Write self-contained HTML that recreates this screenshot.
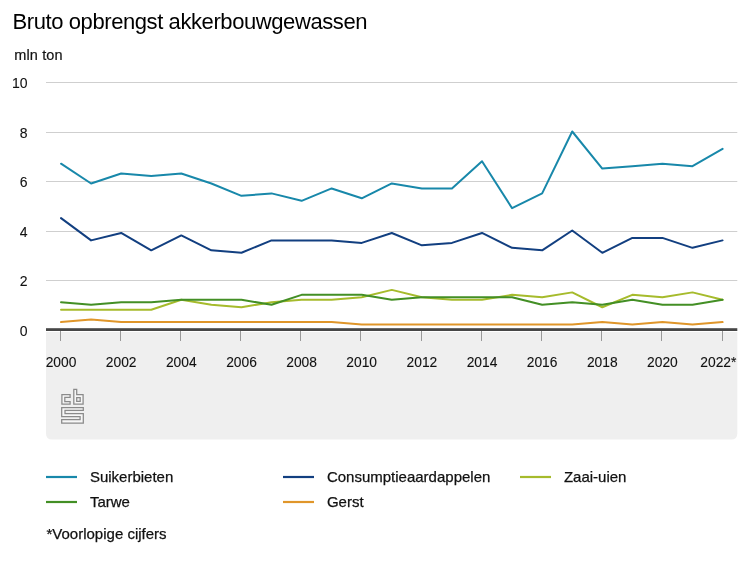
<!DOCTYPE html>
<html><head><meta charset="utf-8"><style>
html,body{margin:0;padding:0;background:#fff;}
body{width:750px;height:562px;overflow:hidden;position:relative;font-family:"Liberation Sans",Arial,sans-serif;color:#111;}
svg{position:absolute;left:0;top:0;will-change:transform;}
.t{font-size:22px;letter-spacing:-0.41px;fill:#000;}
.u{font-size:14.5px;letter-spacing:0.15px;fill:#111;stroke:#111;stroke-width:0.2px;}
.yl{font-size:14px;fill:#111;stroke:#111;stroke-width:0.1px;}
.xl{font-size:13.8px;fill:#111;stroke:#111;stroke-width:0.1px;}
.lg{font-size:15px;fill:#111;stroke:#111;stroke-width:0.25px;}
.fn{font-size:15px;fill:#111;stroke:#111;stroke-width:0.25px;}
</style></head><body>
<svg width="750" height="562" viewBox="0 0 750 562" >
<text x="12.5" y="28.6" class="t">Bruto opbrengst akkerbouwgewassen</text>
<text x="14.2" y="60" class="u">mln ton</text>
<line x1="46.0" x2="737.3" y1="82.5" y2="82.5" stroke="#cfcfcf" stroke-width="1"/><line x1="46.0" x2="737.3" y1="132.5" y2="132.5" stroke="#cfcfcf" stroke-width="1"/><line x1="46.0" x2="737.3" y1="181.5" y2="181.5" stroke="#cfcfcf" stroke-width="1"/><line x1="46.0" x2="737.3" y1="231.5" y2="231.5" stroke="#cfcfcf" stroke-width="1"/><line x1="46.0" x2="737.3" y1="280.5" y2="280.5" stroke="#cfcfcf" stroke-width="1"/><path d="M46.0 332 H737.3 V433.5 Q737.3 439.5 731.3 439.5 H52.0 Q46.0 439.5 46.0 433.5 Z" fill="#efefef"/><line x1="60.5" x2="60.5" y1="331" y2="341" stroke="#999999" stroke-width="1"/><line x1="120.5" x2="120.5" y1="331" y2="341" stroke="#999999" stroke-width="1"/><line x1="180.5" x2="180.5" y1="331" y2="341" stroke="#999999" stroke-width="1"/><line x1="240.5" x2="240.5" y1="331" y2="341" stroke="#999999" stroke-width="1"/><line x1="300.5" x2="300.5" y1="331" y2="341" stroke="#999999" stroke-width="1"/><line x1="360.5" x2="360.5" y1="331" y2="341" stroke="#999999" stroke-width="1"/><line x1="421.5" x2="421.5" y1="331" y2="341" stroke="#999999" stroke-width="1"/><line x1="481.5" x2="481.5" y1="331" y2="341" stroke="#999999" stroke-width="1"/><line x1="541.5" x2="541.5" y1="331" y2="341" stroke="#999999" stroke-width="1"/><line x1="601.5" x2="601.5" y1="331" y2="341" stroke="#999999" stroke-width="1"/><line x1="661.5" x2="661.5" y1="331" y2="341" stroke="#999999" stroke-width="1"/><line x1="722.5" x2="722.5" y1="331" y2="341" stroke="#999999" stroke-width="1"/><path d="M61.03 163.68 L91.10 183.47 L121.17 173.57 L151.24 176.05 L181.31 173.57 L211.38 183.47 L241.45 195.85 L271.52 193.38 L301.59 200.80 L331.66 188.43 L361.73 198.32 L391.80 183.47 L421.87 188.43 L451.94 188.43 L482.01 161.20 L512.08 208.22 L542.15 193.38 L572.22 131.50 L602.29 168.62 L632.36 166.15 L662.43 163.68 L692.50 166.15 L722.57 148.82" fill="none" stroke="#1888aa" stroke-width="2" stroke-linejoin="round" stroke-linecap="round"/><path d="M61.03 218.12 L91.10 240.40 L121.17 232.97 L151.24 250.30 L181.31 235.45 L211.38 250.30 L241.45 252.78 L271.52 240.40 L301.59 240.40 L331.66 240.40 L361.73 242.88 L391.80 232.97 L421.87 245.35 L451.94 242.88 L482.01 232.97 L512.08 247.83 L542.15 250.30 L572.22 230.50 L602.29 252.78 L632.36 237.92 L662.43 237.92 L692.50 247.83 L722.57 240.40" fill="none" stroke="#123f80" stroke-width="2" stroke-linejoin="round" stroke-linecap="round"/><path d="M61.03 309.70 L91.10 309.70 L121.17 309.70 L151.24 309.70 L181.31 299.80 L211.38 304.75 L241.45 307.23 L271.52 302.27 L301.59 299.80 L331.66 299.80 L361.73 297.32 L391.80 289.90 L421.87 297.32 L451.94 299.80 L482.01 299.80 L512.08 294.85 L542.15 297.32 L572.22 292.38 L602.29 307.23 L632.36 294.85 L662.43 297.32 L692.50 292.38 L722.57 299.80" fill="none" stroke="#a6bb2c" stroke-width="2" stroke-linejoin="round" stroke-linecap="round"/><path d="M61.03 302.27 L91.10 304.75 L121.17 302.27 L151.24 302.27 L181.31 299.80 L211.38 299.80 L241.45 299.80 L271.52 304.75 L301.59 294.85 L331.66 294.85 L361.73 294.85 L391.80 299.80 L421.87 297.32 L451.94 297.32 L482.01 297.32 L512.08 297.32 L542.15 304.75 L572.22 302.27 L602.29 304.75 L632.36 299.80 L662.43 304.75 L692.50 304.75 L722.57 299.80" fill="none" stroke="#438f25" stroke-width="2" stroke-linejoin="round" stroke-linecap="round"/><path d="M61.03 322.07 L91.10 319.60 L121.17 322.07 L151.24 322.07 L181.31 322.07 L211.38 322.07 L241.45 322.07 L271.52 322.07 L301.59 322.07 L331.66 322.07 L361.73 324.55 L391.80 324.55 L421.87 324.55 L451.94 324.55 L482.01 324.55 L512.08 324.55 L542.15 324.55 L572.22 324.55 L602.29 322.07 L632.36 324.55 L662.43 322.07 L692.50 324.55 L722.57 322.07" fill="none" stroke="#e0962a" stroke-width="2" stroke-linejoin="round" stroke-linecap="round"/><rect x="46.0" y="328" width="691.3" height="1" fill="#6a6a6a"/><rect x="46.0" y="329" width="691.3" height="2" fill="#464646"/>
<text x="27.5" y="88.2" text-anchor="end" class="yl">10</text><text x="27.5" y="137.7" text-anchor="end" class="yl">8</text><text x="27.5" y="187.2" text-anchor="end" class="yl">6</text><text x="27.5" y="236.7" text-anchor="end" class="yl">4</text><text x="27.5" y="286.2" text-anchor="end" class="yl">2</text><text x="27.5" y="335.7" text-anchor="end" class="yl">0</text>
<text x="61.0" y="367" text-anchor="middle" class="xl">2000</text><text x="121.2" y="367" text-anchor="middle" class="xl">2002</text><text x="181.3" y="367" text-anchor="middle" class="xl">2004</text><text x="241.5" y="367" text-anchor="middle" class="xl">2006</text><text x="301.6" y="367" text-anchor="middle" class="xl">2008</text><text x="361.7" y="367" text-anchor="middle" class="xl">2010</text><text x="421.9" y="367" text-anchor="middle" class="xl">2012</text><text x="482.0" y="367" text-anchor="middle" class="xl">2014</text><text x="542.1" y="367" text-anchor="middle" class="xl">2016</text><text x="602.3" y="367" text-anchor="middle" class="xl">2018</text><text x="662.4" y="367" text-anchor="middle" class="xl">2020</text><text x="736.4" y="367" text-anchor="end" class="xl">2022*</text>
<g fill="#f7f7f7" stroke="#8a8a8a" stroke-width="1.25" stroke-linejoin="miter">
<path d="M70.1 394.6 H61.9 V404.2 H70.1 V401.5 H64.8 V397.4 H70.1 Z"/>
<path d="M73.8 389.3 H76.7 V394.6 H83.1 V404.2 H73.8 Z M76.7 397.5 V401.4 H80.2 V397.5 Z" fill-rule="evenodd"/>
<path d="M61.7 407.5 H83.3 V410.4 H65 V413.6 H83.3 V423 H61.7 V419.6 H80.1 V416.7 H61.7 Z"/>
</g>
<line x1="46" x2="77" y1="477" y2="477" stroke="#1888aa" stroke-width="2.2"/><text x="89.9" y="481.6" class="lg">Suikerbieten</text><line x1="283" x2="314" y1="477" y2="477" stroke="#123f80" stroke-width="2.2"/><text x="326.9" y="481.6" class="lg">Consumptieaardappelen</text><line x1="520" x2="551" y1="477" y2="477" stroke="#a6bb2c" stroke-width="2.2"/><text x="563.9" y="481.6" class="lg">Zaai-uien</text><line x1="46" x2="77" y1="502" y2="502" stroke="#438f25" stroke-width="2.2"/><text x="89.9" y="506.6" class="lg">Tarwe</text><line x1="283" x2="314" y1="502" y2="502" stroke="#e0962a" stroke-width="2.2"/><text x="326.9" y="506.6" class="lg">Gerst</text>
<text x="46.5" y="539" class="fn">*Voorlopige cijfers</text>
</svg>
</body></html>
